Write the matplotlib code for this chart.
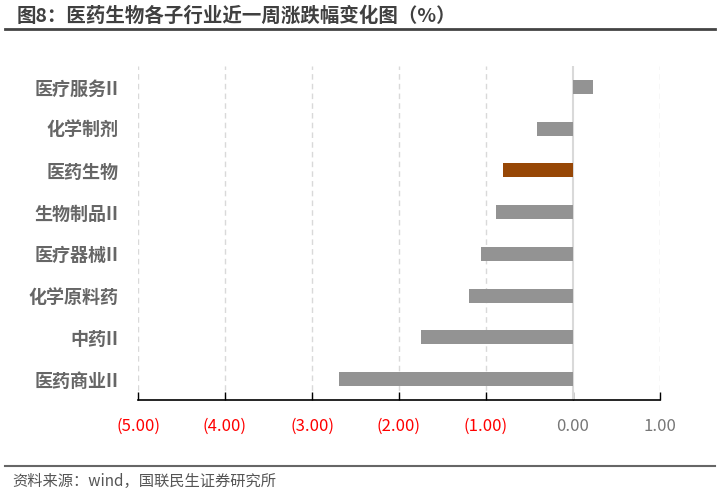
import matplotlib
matplotlib.use("Agg")
import matplotlib.pyplot as plt
from matplotlib.lines import Line2D

plt.rcParams['font.family'] = ['Noto Sans CJK SC', 'DejaVu Sans']

categories = ['医疗服务II', '化学制剂', '医药生物', '生物制品II', '医疗器械II', '化学原料药', '中药II', '医药商业II']
values = [0.23, -0.41, -0.81, -0.88, -1.06, -1.19, -1.75, -2.69]
highlight = '医药生物'
xticks = [-5, -4, -3, -2, -1, 0, 1]
xticklabels = ['(5.00)', '(4.00)', '(3.00)', '(2.00)', '(1.00)', '0.00', '1.00']

fig = plt.figure(figsize=(7.2, 4.94), dpi=100)
ax = fig.add_axes([138/720, 1-400/494, (660-138)/720, (400-66)/494])

n = len(categories)
ypos = list(range(n))[::-1]
colors = ['#974706' if c == highlight else '#939393' for c in categories]
ax.barh(ypos, values, height=0.34, color=colors, zorder=3)

ax.set_xlim(-5, 1)
ax.set_ylim(-0.5, n - 0.5)
ax.set_yticks(ypos)
ax.set_yticklabels(categories, fontsize=13, fontweight='bold', color='#666666')
ax.set_xticks(xticks)
ax.set_xticklabels(xticklabels, fontsize=12)
for lbl, v in zip(ax.get_xticklabels(), xticks):
    lbl.set_color('#ff0000' if v < 0 else '#777777')

for v in xticks:
    if v != 0:
        ax.axvline(v, color='#d9d9d9', linestyle=(0, (4, 3)), linewidth=1, zorder=1)
ax.axvline(0, color='#d9d9d9', linewidth=1.5, zorder=2)

for s in ['top', 'right', 'left']:
    ax.spines[s].set_visible(False)
ax.spines['bottom'].set_color('#000000')
ax.spines['bottom'].set_linewidth(1.2)
ax.tick_params(axis='y', length=0, pad=14)
ax.tick_params(axis='x', direction='in', length=6, width=1, color='#000000', pad=13)

fig.text(17/720, 1-16/494, '图8：医药生物各子行业近一周涨跌幅变化图（%）', fontsize=14,
         fontweight='bold', color='#404040', va='center', ha='left')
fig.add_artist(Line2D([5/720, 715/720], [1-29/494, 1-29/494], color='#444444', linewidth=2))
fig.add_artist(Line2D([5/720, 715/720], [1-466/494, 1-466/494], color='#666666', linewidth=1.5))
fig.text(12/720, 1-481/494, '资料来源：wind，国联民生证券研究所', fontsize=11,
         color='#555555', va='center', ha='left')

fig.savefig('out.png', dpi=100)
